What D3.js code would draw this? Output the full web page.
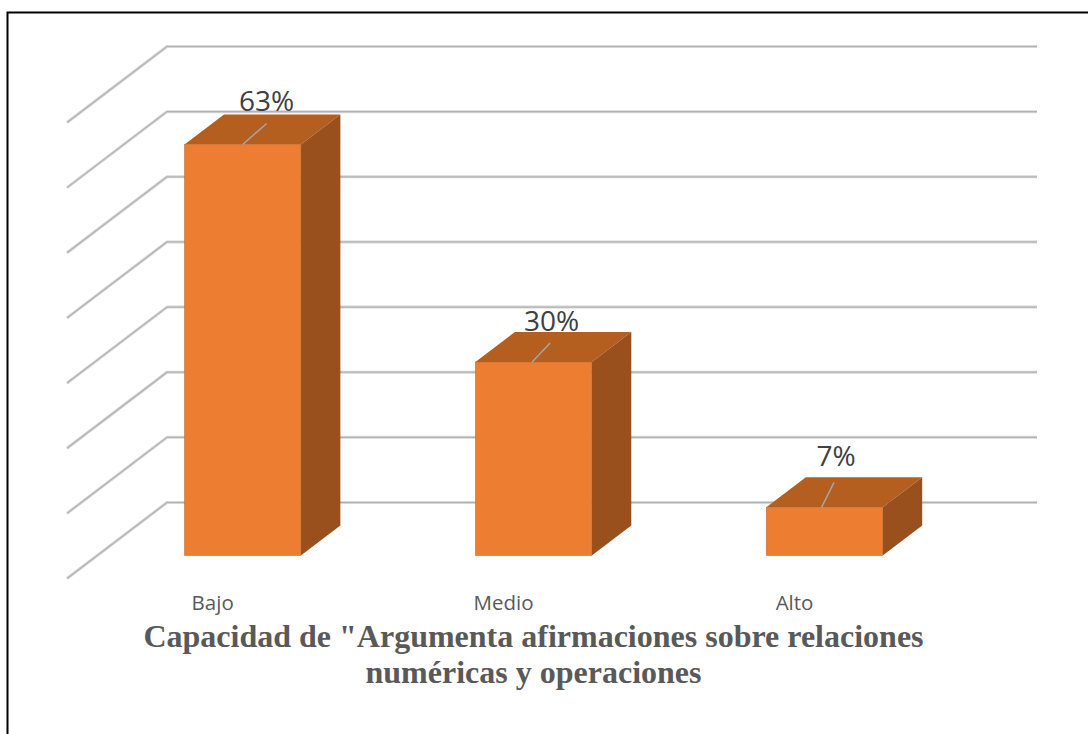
<!DOCTYPE html>
<html>
<head>
<meta charset="utf-8">
<script src="https://cdn.jsdelivr.net/npm/d3@7"></script>
<style>
body { margin: 0; background: #fff; }
svg { display: block; }
.grid { fill: none; stroke: #d6d6d6; stroke-width: 3; stroke-linejoin: round; }
.grid-core { fill: none; stroke: #b2b2b2; stroke-width: 1.2; }
.leader { stroke: #a6a6a6; stroke-width: 1.5; }
.value { font-family: "Open Sans", sans-serif; font-size: 28px; fill: #404040; text-anchor: middle; }
.cat text { font-family: "Open Sans", sans-serif; font-size: 20.5px; fill: #595959; }
.title { font-family: "Liberation Serif", serif; font-size: 32px; font-weight: bold; fill: #595959; text-anchor: middle; }
</style>
</head>
<body>
<script>
var categories = ["Bajo", "Medio", "Alto"];
var values = [63.1, 29.7, 7.4];
var valueLabels = ["63%", "30%", "7%"];
var titleLines = ["Capacidad de \"Argumenta afirmaciones sobre relaciones", "numéricas y operaciones"];

var width = 1088, height = 734,
    // depth of the fake 3d box, wall and bars
    wallDx = 100, wallDy = -76,
    barDx = 39.5, barDy = -30,
    baseY = 555.5,
    labelDx = [24, 18, 11.5],
    labelDy = [-33.5, -31, -41],
    leaderFrom = [0, -1.5, -3],
    leaderTo = [[24, -21], [16.5, -19], [9.5, -25]];

var x = d3.scaleBand()
    .domain(categories)
    .range([184.5, 882.7])
    .paddingInner(0.6);

// floor of the front plane sits below the bars
var y = d3.scaleLinear()
    .domain([0, 70])
    .range([578.5, 122.5]);

var barH = function (v) { return y(0) - y(v); };

var svg = d3.select("body").append("svg")
    .attr("width", width)
    .attr("height", height);

// page border only shows on the top and left
svg.append("path")
    .attr("fill", "none")
    .attr("stroke", "#000")
    .attr("stroke-width", 2)
    .attr("d", "M7.5,734V12.5H1088");

var wall = function (d) {
    return d3.line()([[67, y(d)], [67 + wallDx, y(d) + wallDy], [1037, y(d) + wallDy]]);
};

svg.append("g").selectAll("path")
    .data(y.ticks(7))
    .enter().append("path")
    .attr("class", "grid")
    .attr("d", wall);

svg.append("g").selectAll("path")
    .data(y.ticks(7))
    .enter().append("path")
    .attr("class", "grid-core")
    .attr("d", wall);

var bars = svg.append("g").selectAll("g")
    .data(values)
    .enter().append("g")
    .attr("transform", function (d, i) {
        return "translate(" + x(categories[i]) + "," + (baseY - barH(d)) + ")";
    });

var w = x.bandwidth();

bars.append("path")
    .attr("fill", "#b45e20")
    .attr("d", d3.line()([[0, 0], [barDx, barDy], [w + barDx, barDy], [w, 0]]));

bars.append("path")
    .attr("fill", "#99501c")
    .attr("d", function (d) {
        return d3.line()([[w, 0], [w + barDx, barDy], [w + barDx, barH(d) + barDy], [w, barH(d)]]);
    });

bars.append("rect")
    .attr("width", w)
    .attr("height", function (d) { return barH(d); })
    .attr("fill", "#ed7d31")
    .attr("stroke", "#b5672c")
    .attr("stroke-width", 0.5);

bars.append("line")
    .attr("class", "leader")
    .attr("x1", function (d, i) { return w / 2 + leaderFrom[i]; })
    .attr("y1", 0)
    .attr("x2", function (d, i) { return w / 2 + leaderTo[i][0]; })
    .attr("y2", function (d, i) { return leaderTo[i][1]; });

bars.append("text")
    .attr("class", "value")
    .attr("x", function (d, i) { return w / 2 + labelDx[i]; })
    .attr("y", function (d, i) { return labelDy[i]; })
    .text(function (d, i) { return valueLabels[i]; });

svg.append("g")
    .attr("class", "cat")
    .attr("transform", "translate(-30,589)")
    .call(d3.axisBottom(x).tickSize(0).tickPadding(6))
    .call(function (g) { g.select(".domain").remove(); });

svg.append("g").selectAll("text")
    .data(titleLines)
    .enter().append("text")
    .attr("class", "title")
    .attr("x", 533.5)
    .attr("y", function (d, i) { return 646.5 + i * 36; })
    .text(function (d) { return d; });
</script>
</body>
</html>
